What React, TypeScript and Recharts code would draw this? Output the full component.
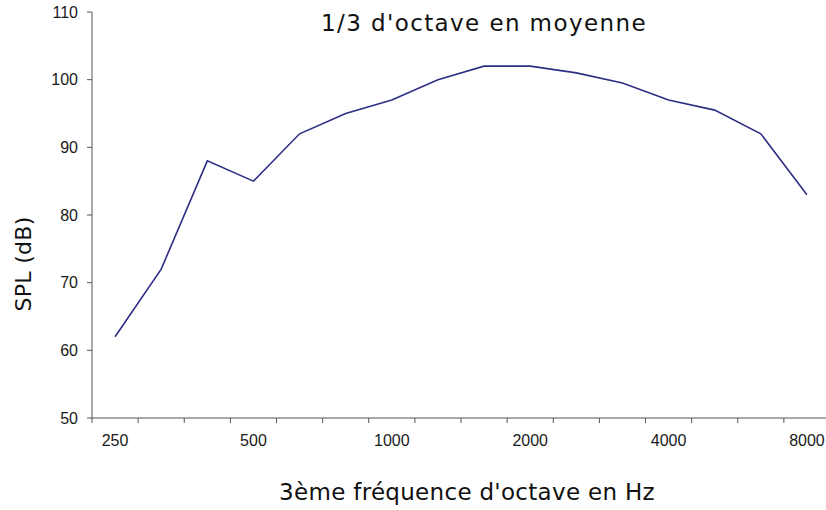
import { LineChart, Line, XAxis, YAxis, Customized } from "recharts";

const freqs = ["250", "315", "400", "500", "630", "800", "1000", "1250", "1600", "2000", "2500", "3150", "4000", "5000", "6300", "8000"];
const spl = [62, 72, 88, 85, 92, 95, 97, 100, 102, 102, 101, 99.5, 97, 95.5, 92, 83];
const labeledFreqs = ["250", "500", "1000", "2000", "4000", "8000"];
const yTicks = [50, 60, 70, 80, 90, 100, 110];

const data = freqs.map((f, i) => ({ idx: i, freq: f, spl: spl[i] }));
const labelTicks = labeledFreqs.map((f) => freqs.indexOf(f));
const boundaryTicks = [...freqs.map((_, i) => i - 0.5), freqs.length - 0.5];
const xTicks = [...boundaryTicks, ...labelTicks].sort((a, b) => a - b);

const titleFont = "'DejaVu Sans', sans-serif";
const tickFont = "'Liberation Sans', Arial, sans-serif";
const axisColor = "#555";

function XTick({ x, y, payload }: any) {
  const v = payload.value as number;
  if (!Number.isInteger(v)) {
    return <line x1={x} x2={x} y1={y} y2={y + 5} stroke={axisColor} strokeWidth={1} />;
  }
  return (
    <text x={x} y={y + 28} textAnchor="middle" fontSize={16} fontFamily={tickFont} fill="#1a1a1a">
      {freqs[v]}
    </text>
  );
}

function Titles() {
  return (
    <g fontFamily={titleFont} fill="#111">
      <text x={484} y={31} textAnchor="middle" fontSize={23} letterSpacing={1.4}>
        1/3 d'octave en moyenne
      </text>
      <text x={467} y={500} textAnchor="middle" fontSize={23} letterSpacing={0.3}>
        3ème fréquence d'octave en Hz
      </text>
      <text x={0} y={0} transform="translate(31, 264) rotate(-90)" textAnchor="middle" fontSize={22} letterSpacing={0.3}>
        SPL (dB)
      </text>
    </g>
  );
}

export default function App() {
  return (
    <div style={{ position: "absolute", left: 0, top: 0, width: 826, height: 510, overflow: "hidden", background: "#fff" }}>
      <LineChart width={840} height={510} data={data} margin={{ top: 12, right: 10, left: 0, bottom: 0 }}>
        <XAxis
          dataKey="idx"
          type="number"
          domain={[-0.5, freqs.length - 0.5]}
          ticks={xTicks}
          interval={0}
          tick={<XTick />}
          tickLine={false}
          tickSize={0}
          tickMargin={0}
          height={92}
          stroke={axisColor}
        />
        <YAxis
          type="number"
          domain={[50, 110]}
          ticks={yTicks}
          interval={0}
          width={92}
          tickSize={5}
          tickMargin={9}
          stroke={axisColor}
          tick={{ fontSize: 16, fontFamily: tickFont, fill: "#1a1a1a" }}
        />
        <Line
          type="linear"
          dataKey="spl"
          stroke="#2E2E85"
          strokeWidth={1.6}
          dot={false}
          activeDot={false}
          isAnimationActive={false}
        />
        <Customized component={Titles} />
      </LineChart>
    </div>
  );
}
